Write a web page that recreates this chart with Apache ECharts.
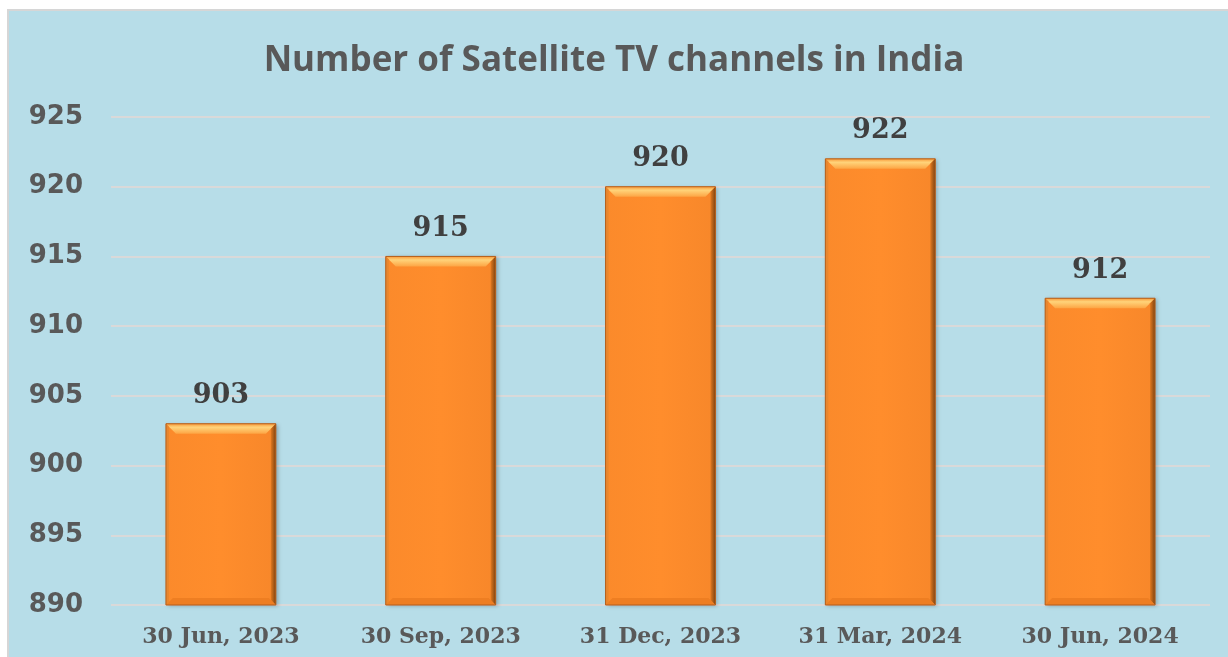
<!DOCTYPE html>
<html>
<head>
<meta charset="utf-8">
<script src="https://cdn.jsdelivr.net/npm/echarts@6/dist/echarts.min.js"></script>
<style>
  html, body { margin: 0; padding: 0; background: #ffffff; }
  #chart { width: 1228px; height: 657px; }
</style>
</head>
<body>
<div id="chart"></div>
<script>
// Quarterly count of satellite TV channels
const categories = ['30 Jun, 2023', '30 Sep, 2023', '31 Dec, 2023', '31 Mar, 2024', '30 Jun, 2024'];
const channels = [903, 915, 920, 922, 912];
const yMin = 890, yMax = 925, yStep = 5;

const chart = echarts.init(document.getElementById('chart'));

// Bevel overlay drawn on top of each bar from the same values
function bevel(params, api) {
  const idx = api.value(0);
  const val = api.value(1);
  const top = api.coord([idx, val]);
  const base = api.coord([idx, yMin]);
  const w = api.size([1, 0])[0] * 0.5;
  const x0 = top[0] - w / 2, x1 = top[0] + w / 2;
  const y0 = top[1], y1 = base[1];
  const b = 10;
  return {
    type: 'group',
    children: [
      { type: 'polygon', shape: { points: [[x0, y0], [x1, y0], [x1 - b, y0 + b], [x0 + b, y0 + b]] },
        style: { fill: { type: 'linear', x: 0, y: 0, x2: 0, y2: 1,
          colorStops: [{ offset: 0, color: '#F99A3A' }, { offset: 0.35, color: '#FFD37A' },
                       { offset: 1, color: '#FDA544' }] } } },
      { type: 'polygon', shape: { points: [[x1, y0], [x1, y1], [x1 - 5, y1 - 5], [x1 - 5, y0 + 5]] },
        style: { fill: { type: 'linear', x: 0, y: 0, x2: 1, y2: 0,
          colorStops: [{ offset: 0, color: '#E0781E' }, { offset: 1, color: '#7E4412' }] } } },
      { type: 'polygon', shape: { points: [[x0, y0], [x0 + 3, y0 + 3], [x0 + 3, y1 - 3], [x0, y1]] },
        style: { fill: '#E8862E' } },
      { type: 'polygon', shape: { points: [[x0, y1], [x1, y1], [x1 - 7, y1 - 7], [x0 + 7, y1 - 7]] },
        style: { fill: '#EE7E22' } },
      { type: 'rect', shape: { x: x0, y: y0, width: x1 - x0, height: y1 - y0 },
        style: { fill: 'none', stroke: '#B45F1C', lineWidth: 1 } }
    ]
  };
}

chart.setOption({
  backgroundColor: '#ffffff',
  graphic: [{
    type: 'rect', z: -10, silent: true,
    shape: { x: 8, y: 10, width: 1240, height: 680 },
    style: { fill: '#B7DDE8', stroke: '#D6D6D6', lineWidth: 2 }
  }],
  title: {
    text: 'Number of Satellite TV channels in India',
    left: 'center', top: 39,
    textStyle: { fontFamily: 'Open Sans', fontWeight: 'bold', fontSize: 35, color: '#595959' }
  },
  grid: { left: 111, right: 18, top: 117, bottom: 52 },
  xAxis: {
    type: 'category', data: categories,
    axisLine: { show: false }, axisTick: { show: false },
    axisLabel: { margin: 21, fontFamily: 'DejaVu Serif', fontWeight: 'bold', fontSize: 22, color: '#595959' }
  },
  yAxis: {
    type: 'value', min: yMin, max: yMax, interval: yStep,
    axisLine: { show: false }, axisTick: { show: false },
    axisLabel: { margin: 28, fontFamily: 'DejaVu Sans', fontWeight: 'bold', fontSize: 26, color: '#595959' },
    splitLine: { lineStyle: { color: '#D9D9D9', width: 2 } }
  },
  series: [{
    type: 'bar', data: channels, barWidth: '50%',
    itemStyle: {
      color: { type: 'linear', x: 0, y: 0, x2: 1, y2: 0,
        colorStops: [{ offset: 0, color: '#FB8A2B' }, { offset: 0.5, color: '#FF8D2C' }, { offset: 1, color: '#F7872A' }] },
      shadowColor: 'rgba(0,0,0,0.25)', shadowBlur: 4, shadowOffsetX: 2, shadowOffsetY: 1
    },
    label: {
      show: true, position: 'top', distance: 14,
      fontFamily: 'DejaVu Serif', fontWeight: 'bold', fontSize: 27, color: '#404040'
    }
  }, {
    type: 'custom', renderItem: bevel, silent: true, z: 3,
    data: channels.map((v, i) => [i, v])
  }]
});
</script>
</body>
</html>
